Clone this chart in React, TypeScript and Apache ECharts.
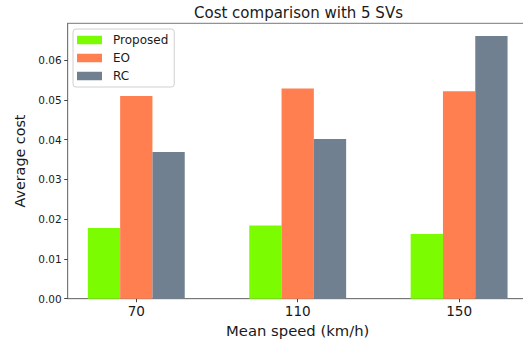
import React, { useEffect, useRef } from "react";
import * as echarts from "echarts";

const speeds = [70, 110, 150];
const seriesNames = ["Proposed", "EO", "RC"];
const proposed = [0.0178, 0.0184, 0.0163];
const eo = [0.051, 0.0529, 0.0522];
const rc = [0.0369, 0.0402, 0.0661];
const yTicks = [0, 0.01, 0.02, 0.03, 0.04, 0.05, 0.06];
const colors = ["#7CFC00", "#FF7F50", "#708090"];

const FONT = "DejaVu Sans";

export default function App() {
  const ref = useRef<HTMLDivElement>(null);
  useEffect(() => {
    document.body.style.margin = "0";
    const chart = echarts.init(ref.current!, null, { renderer: "svg" });
    const values = [proposed, eo, rc];
    chart.setOption({
      animation: false,
      backgroundColor: "#ffffff",
      textStyle: { fontFamily: FONT },
      title: {
        text: "Cost comparison with 5 SVs",
        left: 194,
        top: 5,
        padding: 0,
        textStyle: { fontFamily: FONT, fontSize: 15, fontWeight: "normal", color: "#1a1a1a" },
      },
      legend: {
        orient: "vertical",
        left: 73,
        top: 29,
        padding: [5, 6, 5, 4],
        itemWidth: 25,
        itemHeight: 8.5,
        itemGap: 6,
        borderColor: "#d0d0d0",
        borderWidth: 1,
        borderRadius: 3,
        backgroundColor: "rgba(255,255,255,0.8)",
        icon: "rect",
        textStyle: { fontFamily: FONT, fontSize: 12, color: "#1a1a1a", lineHeight: 12, padding: [0, 0, 0, 6] },
        data: seriesNames,
      },
      grid: {
        left: 67.7,
        top: 23.3,
        width: 460,
        height: 275.4,
        show: true,
        borderColor: "#777777",
        borderWidth: 1,
        containLabel: false,
        outerBoundsMode: "none",
      },
      xAxis: {
        type: "value",
        min: 53,
        max: 167,
        name: "Mean speed (km/h)",
        nameLocation: "middle",
        nameGap: 23,
        nameTextStyle: { fontFamily: FONT, fontSize: 14.8, color: "#1a1a1a" },
        axisLine: { show: true, lineStyle: { color: "#777777" } },
        axisTick: { show: true, customValues: speeds, length: 3.5, lineStyle: { color: "#444" } },
        axisLabel: {
          customValues: speeds,
          fontFamily: FONT,
          fontSize: 13.6,
          color: "#1a1a1a",
          margin: 5,
          formatter: (v: number) => String(v),
        },
        splitLine: { show: false },
      },
      yAxis: {
        type: "value",
        min: 0,
        max: 0.0693,
        name: "Average cost",
        nameLocation: "middle",
        nameGap: 36,
        nameTextStyle: { fontFamily: FONT, fontSize: 14.3, color: "#1a1a1a" },
        axisLine: { show: true, lineStyle: { color: "#777777" } },
        axisTick: { show: true, customValues: yTicks, length: 3.5, lineStyle: { color: "#444" } },
        axisLabel: {
          customValues: yTicks,
          fontFamily: FONT,
          fontSize: 10.5,
          color: "#1a1a1a",
          margin: 6,
          formatter: (v: number) => v.toFixed(2),
        },
        splitLine: { show: false },
      },
      series: seriesNames.map((name, i) => ({
        name,
        type: "bar",
        barWidth: 32.3,
        barGap: "0%",
        itemStyle: { color: colors[i] },
        data: speeds.map((s, j) => [s, values[i][j]]),
      })),
    });
    return () => chart.dispose();
  }, []);
  return <div ref={ref} style={{ width: 523, height: 339 }} />;
}
